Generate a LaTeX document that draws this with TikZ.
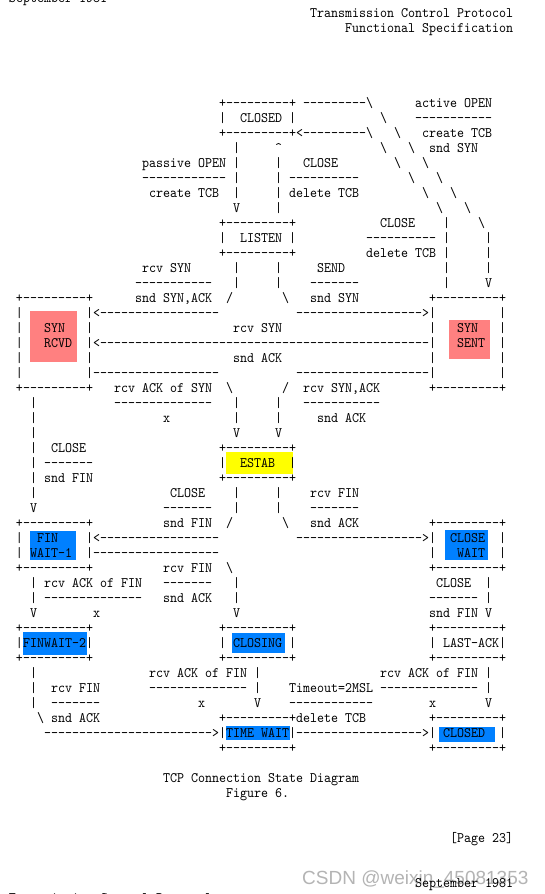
\documentclass[tikz,border=0pt]{standalone}
\usepackage{fontspec}
\setmonofont{lmmono10-regular.otf}[FakeStretch=0.92]
\newfontfamily\wmfont{Liberation Sans}
\definecolor{synpink}{RGB}{255,128,128}
\definecolor{stblue}{RGB}{0,128,255}
\definecolor{estyellow}{RGB}{255,255,0}
\definecolor{wmgray}{RGB}{180,180,180}
\newcount\tn
\newcommand\bsl{\textbackslash}
\newcommand\Tx[3]{\global\advance\tn by 1\relax\node[txt] (t\the\tn) at ({9+7*(#2)},{-(17+15*(#1))}) {#3};}
\tikzset{
  txt/.style={anchor=base west, inner sep=0pt, outer sep=0pt, font=\fontsize{14.5}{15}\selectfont\ttfamily},
  hl/.style={fill=#1, draw=none}
}
\begin{document}
\begin{tikzpicture}[x=1pt,y=1pt]
\useasboundingbox (0,0) rectangle (544,-894);
\clip (0,0) rectangle (544,-894);
\fill[white] (0,0) rectangle (544,-894);
% highlights
\fill[hl=synpink] (30,-311) rectangle (77,-362);
\fill[hl=synpink] (449,-320) rectangle (490,-359);
\fill[hl=estyellow] (226,-452) rectangle (293,-474);
\fill[hl=stblue] (30,-531) rectangle (76,-560);
\fill[hl=stblue] (445,-530) rectangle (488,-560);
\fill[hl=stblue] (23,-632) rectangle (87,-655);
\fill[hl=stblue] (232,-633) rectangle (285,-653);
\fill[hl=stblue] (226,-726) rectangle (290,-740);
\fill[hl=stblue] (439,-727) rectangle (495,-742);
% watermark
\node[anchor=base west, inner sep=0pt, font=\wmfont\fontsize{19}{19}\selectfont, text=wmgray] (wm) at (302,-884) {CSDN @weixin\_45081353};
% text lines
\Tx{-1}{0}{September 1981}
\Tx{0}{43}{Transmission Control Protocol}
\Tx{1}{48}{Functional Specification}
\Tx{6}{30}{+---------+ ---------\bsl}\Tx{6}{58}{active OPEN}
\Tx{7}{30}{|}\Tx{7}{33}{CLOSED |}\Tx{7}{53}{\bsl}\Tx{7}{58}{-----------}
\Tx{8}{30}{+---------+<---------\bsl}\Tx{8}{55}{\bsl}\Tx{8}{59}{create TCB}
\Tx{9}{32}{|}\Tx{9}{38}{\textasciicircum}\Tx{9}{53}{\bsl}\Tx{9}{57}{\bsl}\Tx{9}{60}{snd SYN}
\Tx{10}{19}{passive OPEN |}\Tx{10}{38}{|}\Tx{10}{42}{CLOSE}\Tx{10}{55}{\bsl}\Tx{10}{59}{\bsl}
\Tx{11}{19}{------------ |}\Tx{11}{38}{| ----------}\Tx{11}{57}{\bsl}\Tx{11}{61}{\bsl}
\Tx{12}{20}{create TCB}\Tx{12}{32}{|}\Tx{12}{38}{| delete TCB}\Tx{12}{59}{\bsl}\Tx{12}{63}{\bsl}
\Tx{13}{32}{V}\Tx{13}{38}{|}\Tx{13}{61}{\bsl}\Tx{13}{65}{\bsl}
\Tx{14}{30}{+---------+}\Tx{14}{53}{CLOSE}\Tx{14}{62}{|}\Tx{14}{67}{\bsl}
\Tx{15}{30}{|}\Tx{15}{33}{LISTEN |}\Tx{15}{51}{---------- |}\Tx{15}{68}{|}
\Tx{16}{30}{+---------+}\Tx{16}{51}{delete TCB |}\Tx{16}{68}{|}
\Tx{17}{19}{rcv SYN}\Tx{17}{32}{|}\Tx{17}{38}{|}\Tx{17}{44}{SEND}\Tx{17}{62}{|}\Tx{17}{68}{|}
\Tx{18}{18}{-----------}\Tx{18}{32}{|}\Tx{18}{38}{|}\Tx{18}{43}{-------}\Tx{18}{62}{|}\Tx{18}{68}{V}
\Tx{19}{1}{+---------+}\Tx{19}{18}{snd SYN,ACK}\Tx{19}{31}{/}\Tx{19}{39}{\bsl}\Tx{19}{43}{snd SYN}\Tx{19}{60}{+---------+}
\Tx{20}{1}{|}\Tx{20}{11}{|<-----------------}\Tx{20}{41}{------------------>|}\Tx{20}{70}{|}
\Tx{21}{1}{|}\Tx{21}{5}{SYN}\Tx{21}{11}{|}\Tx{21}{32}{rcv SYN}\Tx{21}{60}{|}\Tx{21}{64}{SYN}\Tx{21}{70}{|}
\Tx{22}{1}{|}\Tx{22}{5}{RCVD}\Tx{22}{11}{|<-----------------------------------------------|}\Tx{22}{64}{SENT}\Tx{22}{70}{|}
\Tx{23}{1}{|}\Tx{23}{11}{|}\Tx{23}{32}{snd ACK}\Tx{23}{60}{|}\Tx{23}{70}{|}
\Tx{24}{1}{|}\Tx{24}{11}{|------------------}\Tx{24}{41}{-------------------|}\Tx{24}{70}{|}
\Tx{25}{1}{+---------+}\Tx{25}{15}{rcv ACK of SYN}\Tx{25}{31}{\bsl}\Tx{25}{39}{/}\Tx{25}{42}{rcv SYN,ACK}\Tx{25}{60}{+---------+}
\Tx{26}{3}{|}\Tx{26}{15}{--------------}\Tx{26}{32}{|}\Tx{26}{38}{|}\Tx{26}{42}{-----------}
\Tx{27}{3}{|}\Tx{27}{22}{x}\Tx{27}{32}{|}\Tx{27}{38}{|}\Tx{27}{44}{snd ACK}
\Tx{28}{3}{|}\Tx{28}{32}{V}\Tx{28}{38}{V}
\Tx{29}{3}{|}\Tx{29}{6}{CLOSE}\Tx{29}{30}{+---------+}
\Tx{30}{3}{| -------}\Tx{30}{30}{|}\Tx{30}{33}{ESTAB}\Tx{30}{40}{|}
\Tx{31}{3}{| snd FIN}\Tx{31}{30}{+---------+}
\Tx{32}{3}{|}\Tx{32}{23}{CLOSE}\Tx{32}{32}{|}\Tx{32}{38}{|}\Tx{32}{43}{rcv FIN}
\Tx{33}{3}{V}\Tx{33}{22}{-------}\Tx{33}{32}{|}\Tx{33}{38}{|}\Tx{33}{43}{-------}
\Tx{34}{1}{+---------+}\Tx{34}{22}{snd FIN}\Tx{34}{31}{/}\Tx{34}{39}{\bsl}\Tx{34}{43}{snd ACK}\Tx{34}{60}{+---------+}
\Tx{35}{1}{|}\Tx{35}{4}{FIN}\Tx{35}{11}{|<-----------------}\Tx{35}{41}{------------------>|}\Tx{35}{63}{CLOSE}\Tx{35}{70}{|}
\Tx{36}{1}{| WAIT-1}\Tx{36}{11}{|------------------}\Tx{36}{60}{|}\Tx{36}{64}{WAIT}\Tx{36}{70}{|}
\Tx{37}{1}{+---------+}\Tx{37}{22}{rcv FIN}\Tx{37}{31}{\bsl}\Tx{37}{60}{+---------+}
\Tx{38}{3}{| rcv ACK of FIN}\Tx{38}{22}{-------}\Tx{38}{32}{|}\Tx{38}{61}{CLOSE}\Tx{38}{68}{|}
\Tx{39}{3}{| --------------}\Tx{39}{22}{snd ACK}\Tx{39}{32}{|}\Tx{39}{60}{------- |}
\Tx{40}{3}{V}\Tx{40}{12}{x}\Tx{40}{32}{V}\Tx{40}{60}{snd FIN V}
\Tx{41}{1}{+---------+}\Tx{41}{30}{+---------+}\Tx{41}{60}{+---------+}
\Tx{42}{1}{|FINWAIT-2|}\Tx{42}{30}{| CLOSING |}\Tx{42}{60}{| LAST-ACK|}
\Tx{43}{1}{+---------+}\Tx{43}{30}{+---------+}\Tx{43}{60}{+---------+}
\Tx{44}{3}{|}\Tx{44}{20}{rcv ACK of FIN |}\Tx{44}{53}{rcv ACK of FIN |}
\Tx{45}{3}{|}\Tx{45}{6}{rcv FIN}\Tx{45}{20}{-------------- |}\Tx{45}{40}{Timeout=2MSL -------------- |}
\Tx{46}{3}{|}\Tx{46}{6}{-------}\Tx{46}{27}{x}\Tx{46}{35}{V}\Tx{46}{40}{------------}\Tx{46}{60}{x}\Tx{46}{68}{V}
\Tx{47}{4}{\bsl{} snd ACK}\Tx{47}{30}{+---------+delete TCB}\Tx{47}{60}{+---------+}
\Tx{48}{5}{------------------------>|TIME WAIT|------------------>| CLOSED}\Tx{48}{70}{|}
\Tx{49}{30}{+---------+}\Tx{49}{60}{+---------+}
\Tx{51}{22}{TCP Connection State Diagram}
\Tx{52}{31}{Figure 6.}
\Tx{55}{63}{[Page 23]}
\Tx{58}{58}{September 1981}
\Tx{59}{0}{Transmission Control Protocol}
\end{tikzpicture}
\end{document}
